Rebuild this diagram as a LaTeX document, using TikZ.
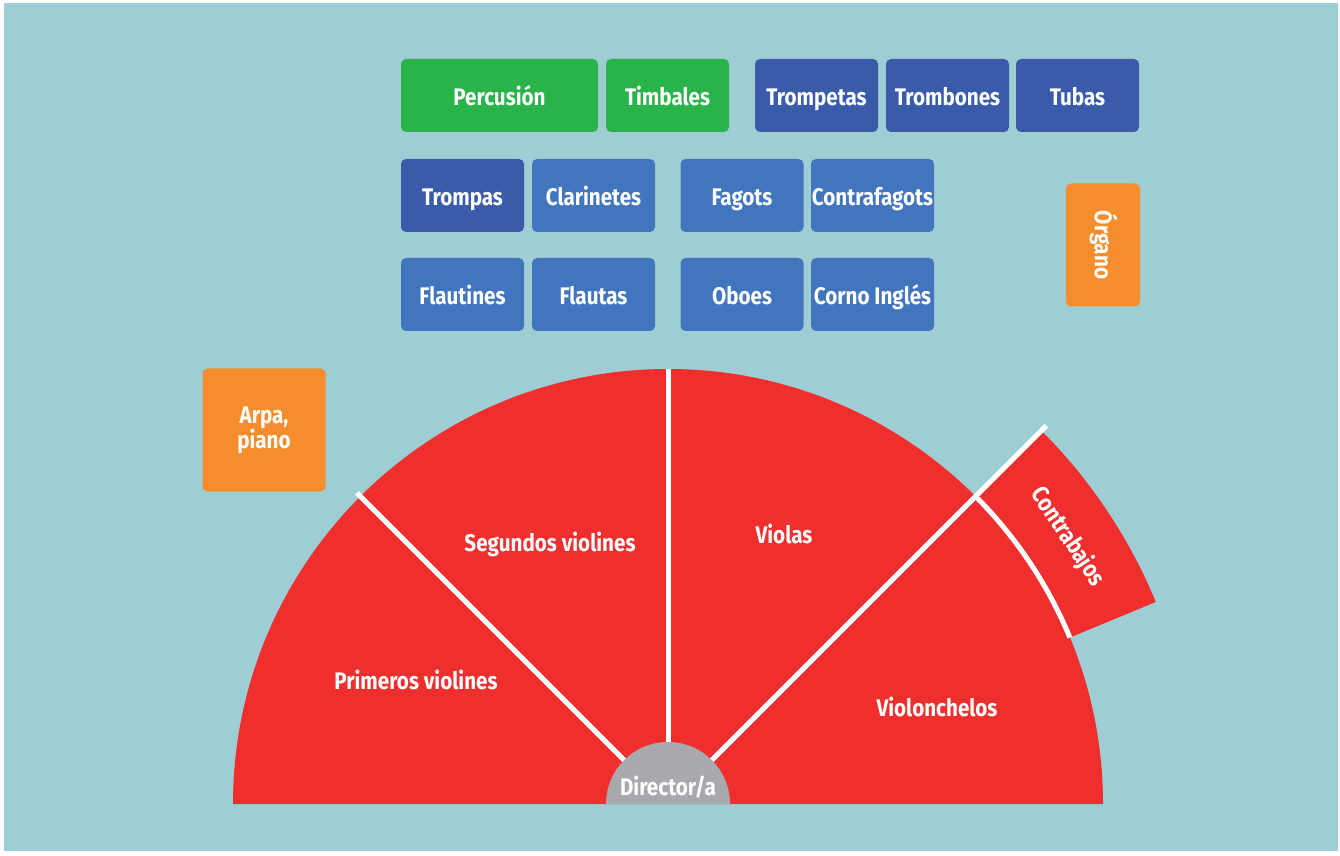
\documentclass[tikz,border=0pt]{standalone}
\usepackage{fontspec}
\setmainfont{Fira Sans}[FakeStretch=0.86]
\usetikzlibrary{calc,positioning}
\definecolor{fondo}{HTML}{9FCDD4}
\definecolor{rojo}{HTML}{EE2F2D}
\definecolor{verde}{HTML}{28B34B}
\definecolor{azuloscuro}{HTML}{3A5BAA}
\definecolor{azul}{HTML}{4175BD}
\definecolor{naranja}{HTML}{F68D2C}
\definecolor{gris}{HTML}{A8A9AD}
\newcommand\etiqueta{\bfseries\fontsize{24}{25}\selectfont}

\begin{document}
\begin{tikzpicture}[x=1pt,y=1pt,
    caja/.style={rounded corners=5pt, minimum width=123pt, minimum height=73pt,
        inner sep=0pt, text=white, font=\etiqueta, text height=20pt, text depth=0pt},
    seccion/.style={text=white, font=\etiqueta, inner sep=0pt, text height=16.5pt, text depth=0pt},
    raya/.style={white, line width=5pt}]
    % fondo
    \fill[white] (0,0) rectangle (1340,855);
    \fill[fondo] (4,4) rectangle (1338,852);

    % cuerdas
    \coordinate (C) at (668,51);
    \fill[rojo] (C) ++(0:435) arc (0:180:435) -- cycle;
    \fill[rojo] ($(C)+(22.5:435)$) -- ($(C)+(22.5:528)$) arc (22.5:45:528)
        -- ($(C)+(45:435)$) arc (45:22.5:435) -- cycle;
    \draw[raya] ($(C)+(135:60)$) -- ($(C)+(135:440)$);
    \draw[raya] ($(C)+(90:60)$) -- ($(C)+(90:435)$);
    \draw[raya] ($(C)+(45:60)$) -- ($(C)+(45:535)$);
    \draw[raya] ($(C)+(45:435)$) arc (45:22.5:435);
    \fill[gris] (C) ++(0:62) arc (0:180:62) -- cycle;

    \node[seccion] (primeros) at (416,174) {Primeros violines};
    \node[seccion] (segundos) at (550,312) {Segundos violines};
    \node[seccion] (violas) at (784,320) {Violas};
    \node[seccion] (chelos) at (937,147) {Violonchelos};
    \node[seccion, rotate=-56.25] (contrabajos) at ($(C)+(33.75:482)$) {Contrabajos};
    \node[seccion] (director) at (668,68) {Director/a};

    % metales y percusion
    \node[caja, fill=verde, minimum width=197pt] (percusion) at (499.5,759.5) {Percusión};
    \node[caja, fill=verde] (timbales) at (667.5,759.5) {Timbales};
    \node[caja, fill=azuloscuro] (trompetas) at (816.5,759.5) {Trompetas};
    \node[caja, fill=azuloscuro] (trombones) at (947.5,759.5) {Trombones};
    \node[caja, fill=azuloscuro] (tubas) at (1077.5,759.5) {Tubas};

    % maderas
    \node[caja, fill=azuloscuro] (trompas) at (462.5,659.5) {Trompas};
    \node[caja, fill=azul] (clarinetes) at (593.5,659.5) {Clarinetes};
    \node[caja, fill=azul] (fagots) at (742,659.5) {Fagots};
    \node[caja, fill=azul] (contrafagots) at (872.5,659.5) {Contrafagots};
    \node[caja, fill=azul] (flautines) at (462.5,560.5) {Flautines};
    \node[caja, fill=azul] (flautas) at (593.5,560.5) {Flautas};
    \node[caja, fill=azul] (oboes) at (742,560.5) {Oboes};
    \node[caja, fill=azul] (corno) at (872.5,560.5) {Corno Inglés};

    % otros
    \node[caja, fill=naranja, minimum width=74pt, minimum height=123pt] (organo) at (1103,610) {};
    \node[seccion, rotate=-90] (organotexto) at (organo.center) {Órgano};
    \node[caja, fill=naranja, minimum height=123pt] (arpa) at (264,425) {};
    \node[seccion, align=center, text height=, text depth=] (arpatexto) at (arpa.center) {Arpa,\\piano};
\end{tikzpicture}
\end{document}
